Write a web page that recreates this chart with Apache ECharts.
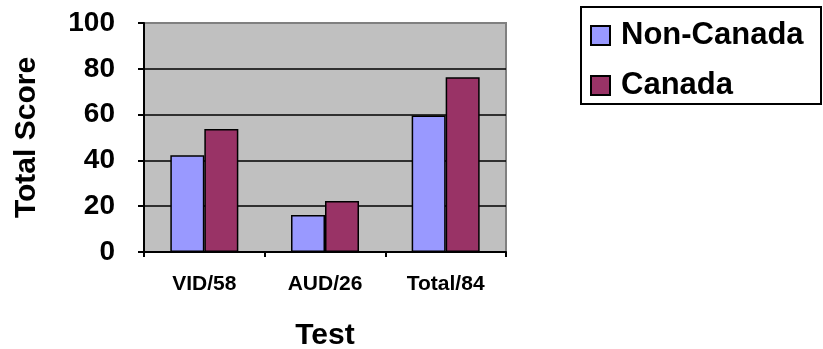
<!DOCTYPE html>
<html>
<head>
<meta charset="utf-8">
<script src="https://cdn.jsdelivr.net/npm/echarts@6/dist/echarts.min.js"></script>
<style>
  html, body { margin: 0; padding: 0; background: #ffffff; overflow: hidden; }
  #chart { width: 823px; height: 349px; }
</style>
</head>
<body>
<div id="chart"></div>
<script>
// Test categories and scores per group
const categories = ['VID/58', 'AUD/26', 'Total/84'];
const nonCanada = [42.3, 16.2, 59.6];
const canada = [53.7, 22.3, 76.3];
const seriesNames = ['Non-Canada', 'Canada'];
const yTicks = { min: 0, max: 100, interval: 20 };

const FONT = "'Liberation Sans', Arial, Helvetica, sans-serif";

const chart = echarts.init(document.getElementById('chart'), null, { renderer: 'canvas' });

chart.setOption({
  animation: false,
  backgroundColor: '#ffffff',
  textStyle: { fontFamily: FONT },
  grid: {
    left: 144, right: 317, top: 23, bottom: 97,
    outerBoundsMode: 'none',
    containLabel: false,
    show: true,
    backgroundColor: '#C0C0C0',
    borderColor: '#808080',
    borderWidth: 2
  },
  // legend frame
  graphic: [{
    type: 'rect',
    shape: { x: 581, y: 7, width: 240, height: 97 },
    style: { fill: '#ffffff', stroke: '#000000', lineWidth: 2 },
    z: 0
  }],
  legend: {
    orient: 'vertical',
    left: 581,
    top: 8,
    data: seriesNames,
    icon: 'rect',
    itemWidth: 19,
    itemHeight: 19,
    itemGap: 19,
    padding: [12, 0, 4, 9],
    textStyle: {
      fontFamily: FONT,
      fontWeight: 'bold',
      fontSize: 31,
      lineHeight: 30,
      color: '#000000',
      padding: [0, 0, 0, 6]
    }
  },
  xAxis: {
    type: 'category',
    data: categories,
    name: 'Test',
    nameLocation: 'middle',
    nameGap: 69,
    nameTextStyle: { fontFamily: FONT, fontWeight: 'bold', fontSize: 30, color: '#000000' },
    axisLine: { lineStyle: { color: '#000000', width: 2 } },
    axisTick: { show: true, length: 5, lineStyle: { color: '#000000', width: 2 } },
    axisLabel: { fontFamily: FONT, fontWeight: 'bold', fontSize: 21, color: '#000000', margin: 22 },
    splitLine: { show: false }
  },
  yAxis: {
    type: 'value',
    min: yTicks.min,
    max: yTicks.max,
    interval: yTicks.interval,
    name: 'Total Score',
    nameLocation: 'middle',
    nameGap: 102,
    nameRotate: 90,
    nameTextStyle: { fontFamily: FONT, fontWeight: 'bold', fontSize: 30, color: '#000000' },
    axisLine: { show: true, lineStyle: { color: '#000000', width: 2 } },
    axisTick: { show: true, length: 6, lineStyle: { color: '#000000', width: 2 } },
    axisLabel: { fontFamily: FONT, fontWeight: 'bold', fontSize: 28, color: '#000000', margin: 29 },
    splitLine: {
      show: true,
      lineStyle: {
        color: ['#000000', '#000000', '#000000', '#000000', '#000000', '#808080'],
        width: 1.5
      }
    }
  },
  series: [
    {
      name: seriesNames[0],
      type: 'bar',
      data: nonCanada,
      barWidth: 34,
      barGap: '0%',
      itemStyle: { color: '#9999FF', borderColor: '#000000', borderWidth: 1.5 }
    },
    {
      name: seriesNames[1],
      type: 'bar',
      data: canada,
      barWidth: 34,
      barGap: '0%',
      itemStyle: { color: '#993366', borderColor: '#000000', borderWidth: 1.5 }
    }
  ]
});
</script>
</body>
</html>
